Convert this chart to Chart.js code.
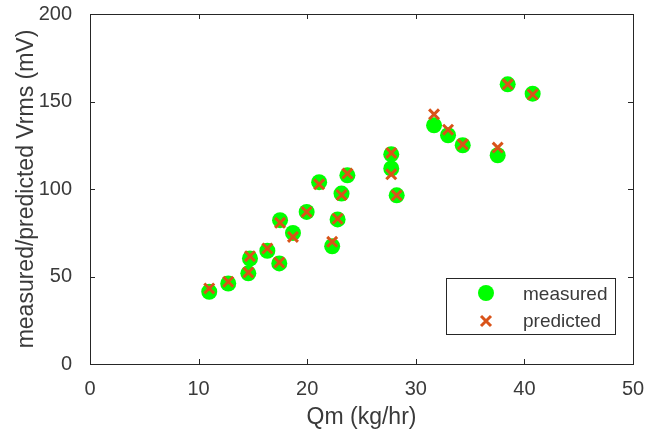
<!DOCTYPE html>
<html>
<head>
<meta charset="utf-8">
<script src="https://cdn.jsdelivr.net/npm/chart.js@4/dist/chart.umd.min.js"></script>
<style>
  html, body { margin: 0; padding: 0; background: #fff; }
  #wrap { width: 667px; height: 434px; }
</style>
</head>
<body>
<div id="wrap"><canvas id="myChart"></canvas></div>
<script>
// data
const qm = [10.98, 12.73, 14.58, 14.73, 16.33, 17.43, 17.5, 18.69, 19.95, 21.1, 22.3, 22.8,
            23.16, 23.7, 27.74, 27.74, 28.24, 31.68, 32.97, 34.32, 37.54, 38.46, 40.76];
const measured = [41.3, 46.0, 51.8, 60.3, 64.7, 57.5, 82.2, 74.9, 86.9, 103.9, 67.3, 82.6,
                  97.4, 107.8, 119.8, 111.7, 96.4, 136.4, 130.7, 125.0, 119.3, 159.8, 154.5];
const predicted = [43.2, 47.0, 52.3, 61.6, 66.0, 58.0, 80.7, 72.6, 86.9, 102.7, 69.8, 83.0,
                   96.6, 108.8, 120.6, 108.4, 96.4, 142.7, 133.9, 125.5, 123.7, 159.8, 154.0];
const xTicks = [0, 10, 20, 30, 40, 50];
const yTicks = [0, 50, 100, 150, 200];
const legendLabels = ['measured', 'predicted'];

const green = '#00ff00';
const orange = '#d95319';
const axisColor = '#262626';
const textColor = '#3a3a3a';
const font = 'Liberation Sans, Arial, sans-serif';

function pairs(xs, ys) {
  return xs.map((x, i) => ({ x: x, y: ys[i] }));
}

// box, inward ticks and the in-axes legend, MATLAB style
const matlabAxes = {
  id: 'matlabAxes',
  afterDraw(chart) {
    const ctx = chart.ctx;
    const a = chart.chartArea;
    const xs = chart.scales.x, ys = chart.scales.y;
    ctx.save();
    ctx.strokeStyle = axisColor;
    ctx.lineWidth = 1;
    ctx.strokeRect(Math.round(a.left) + 0.5, Math.round(a.top) + 0.5,
                   Math.round(a.right - a.left), Math.round(a.bottom - a.top));
    const tl = 5;
    ctx.beginPath();
    xTicks.forEach(v => {
      const px = Math.round(xs.getPixelForValue(v)) + 0.5;
      ctx.moveTo(px, a.bottom); ctx.lineTo(px, a.bottom - tl);
      ctx.moveTo(px, a.top); ctx.lineTo(px, a.top + tl);
    });
    yTicks.forEach(v => {
      const py = Math.round(ys.getPixelForValue(v)) + 0.5;
      ctx.moveTo(a.left, py); ctx.lineTo(a.left + tl, py);
      ctx.moveTo(a.right, py); ctx.lineTo(a.right - tl, py);
    });
    ctx.stroke();

    // legend
    const bx = 446.5, by = 278.5, bw = 169, bh = 56;
    ctx.fillStyle = '#fff';
    ctx.fillRect(bx, by, bw, bh);
    ctx.strokeStyle = axisColor;
    ctx.strokeRect(bx, by, bw, bh);
    const mx = 486;
    ctx.fillStyle = green;
    ctx.beginPath();
    ctx.arc(mx, 293, 8, 0, Math.PI * 2);
    ctx.fill();
    ctx.strokeStyle = orange;
    ctx.lineWidth = 3;
    ctx.beginPath();
    ctx.moveTo(mx - 5, 316); ctx.lineTo(mx + 5, 326);
    ctx.moveTo(mx + 5, 316); ctx.lineTo(mx - 5, 326);
    ctx.stroke();
    ctx.fillStyle = textColor;
    ctx.font = '19px ' + font;
    ctx.textBaseline = 'middle';
    ctx.textAlign = 'left';
    ctx.fillText(legendLabels[0], 523, 295);
    ctx.fillText(legendLabels[1], 523, 322);
    ctx.restore();
  }
};

const config = {
  type: 'scatter',
  data: {
    datasets: [{
      label: legendLabels[0],
      data: pairs(qm, measured),
      pointStyle: 'circle',
      pointRadius: 8,
      pointHoverRadius: 8,
      backgroundColor: green,
      borderColor: green,
      borderWidth: 0,
      order: 2
    }, {
      label: legendLabels[1],
      data: pairs(qm, predicted),
      pointStyle: 'crossRot',
      pointRadius: 7,
      pointHoverRadius: 7,
      borderColor: orange,
      backgroundColor: orange,
      borderWidth: 3,
      order: 1
    }]
  },
  options: {
    responsive: true,
    maintainAspectRatio: false,
    animation: false,
    events: [],
    layout: { padding: { top: 14, right: 34, left: 0, bottom: 0 } },
    plugins: {
      legend: { display: false },
      tooltip: { enabled: false }
    },
    scales: {
      x: {
        type: 'linear',
        min: 0, max: 50,
        afterBuildTicks: s => { s.ticks = xTicks.map(v => ({ value: v })); },
        afterFit: s => { s.height = 70; s.paddingLeft = 0; s.paddingRight = 0; },
        grid: { display: false },
        border: { display: false },
        ticks: { color: textColor, padding: 5, font: { family: font, size: 20 } },
        title: { display: true, text: 'Qm (kg/hr)', color: textColor,
                 padding: { top: 0, bottom: 3 }, font: { family: font, size: 23 } }
      },
      y: {
        type: 'linear',
        min: 0, max: 200,
        afterBuildTicks: s => { s.ticks = yTicks.map(v => ({ value: v })); },
        afterFit: s => { s.width = 90; s.paddingTop = 0; s.paddingBottom = 0; },
        grid: { display: false },
        border: { display: false },
        ticks: { color: textColor, padding: 10, font: { family: font, size: 20 } },
        title: { display: true, text: 'measured/predicted Vrms (mV)', color: textColor,
                 padding: { top: 13, bottom: 0 }, font: { family: font, size: 23 } }
      }
    }
  },
  plugins: [matlabAxes]
};

new Chart(document.getElementById('myChart'), config);
</script>
</body>
</html>
